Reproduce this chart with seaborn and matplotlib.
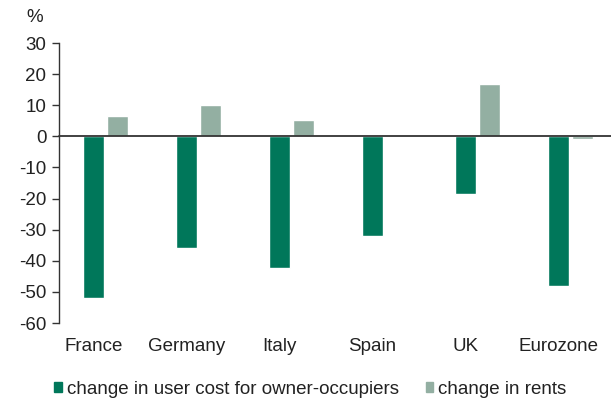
import pandas as pd
import seaborn as sns
import matplotlib.pyplot as plt
import matplotlib.transforms as mtransforms
from matplotlib.patches import Patch

countries = ['France', 'Germany', 'Italy', 'Spain', 'UK', 'Eurozone']
user_cost = [-52, -36, -42.3, -32, -18.4, -48]
rents = [6.5, 10, 5.2, 0.5, 16.8, -0.8]

lab_cost = 'change in user cost for owner-occupiers'
lab_rent = 'change in rents'

df = pd.DataFrame({
    'country': countries * 2,
    'value': user_cost + rents,
    'series': [lab_cost] * len(countries) + [lab_rent] * len(countries),
})

sns.set_style("white")
plt.rcParams['font.family'] = ['Liberation Sans', 'DejaVu Sans']
plt.rcParams['axes.unicode_minus'] = False

colors = {lab_cost: '#00775a', lab_rent: '#93afa2'}
fs = 13.5

fig = plt.figure(figsize=(6.11, 4.0), dpi=100)
ax = fig.add_axes([59 / 611, 1 - 323 / 400, 558 / 611, 280 / 400])
sns.barplot(data=df, x='country', y='value', hue='series', palette=colors,
            width=0.516, gap=0.125, saturation=1, legend=False, ax=ax)

ax.set_ylim(-60, 30)
ax.set_yticks(range(-60, 31, 10))
ax.set_xlim(-0.5, 5.5)
ax.axhline(0, color='#333333', lw=1.3, zorder=5, clip_on=False)
for s in ['top', 'right', 'bottom']:
    ax.spines[s].set_visible(False)
ax.spines['left'].set_color('#333333')
ax.spines['left'].set_linewidth(1)
ax.tick_params(axis='y', left=True, length=5, width=1, color='#333333',
               labelsize=fs, pad=4, labelcolor='#222222')
ax.tick_params(axis='x', bottom=False, labelsize=fs, pad=7, labelcolor='#222222')
shift = mtransforms.ScaledTranslation(-12 / 100, 0, fig.dpi_scale_trans)
for lbl in ax.get_xticklabels():
    lbl.set_transform(lbl.get_transform() + shift)
ax.set_xlabel('')
ax.set_ylabel('')
fig.text(26 / 611, 1 - 18 / 400, '%', fontsize=fs, color='#222222', va='center')

handles = [Patch(color=colors[lab_cost], label=lab_cost),
           Patch(color=colors[lab_rent], label=lab_rent)]
fig.legend(handles=handles, loc='center', bbox_to_anchor=(0.508, 1 - 389 / 400),
           ncol=2, frameon=False, fontsize=fs, handlelength=0.4, handleheight=0.4,
           handletextpad=0.25, columnspacing=1.45, labelcolor='#222222')

plt.savefig('out.png', dpi=100)
